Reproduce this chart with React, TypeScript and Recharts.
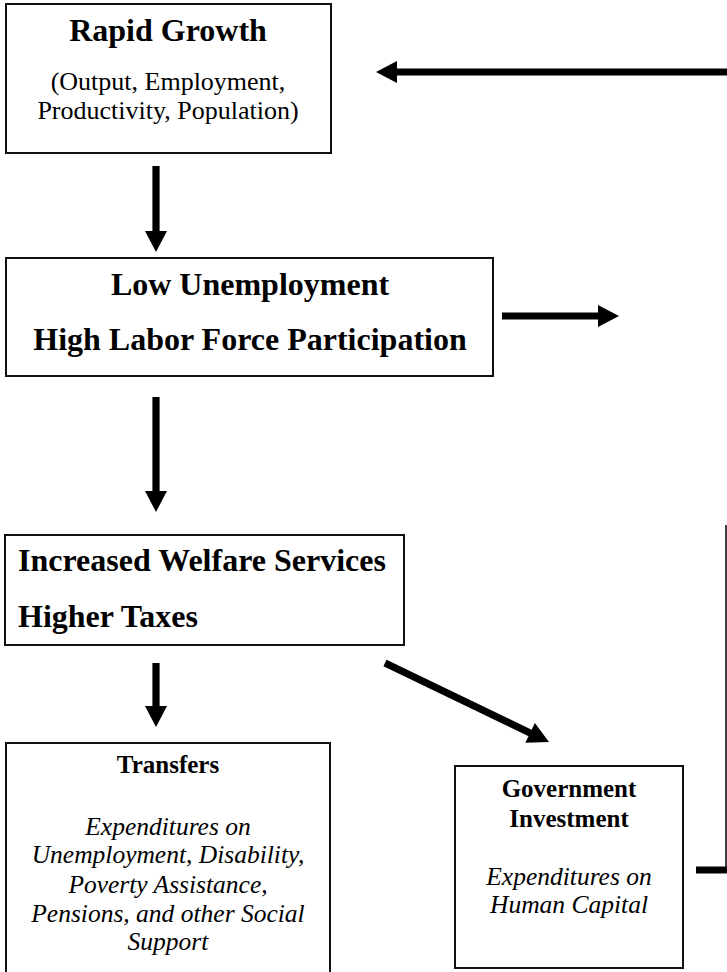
import React from "react";
import {
  ScatterChart,
  Scatter,
  XAxis,
  YAxis,
  ReferenceArea,
  ReferenceLine
} from "recharts";

// diagram units = page pixels of the 727x972 figure
const WIDTH = 727;
const HEIGHT = 972;

const boxes = [
  { id: "growth", x1: 6, x2: 331, y1: 4, y2: 153 },
  { id: "labor", x1: 6, x2: 493, y1: 258, y2: 376 },
  { id: "welfare", x1: 5, x2: 404, y1: 535, y2: 645 },
  { id: "transfers", x1: 6, x2: 330, y1: 743, y2: 990 },
  { id: "investment", x1: 455, x2: 683, y1: 766, y2: 968 }
];

const textLines = [
  { x: 168, y: 41, text: "Rapid Growth", role: "head" },
  { x: 168, y: 90, text: "(Output, Employment,", role: "sub" },
  { x: 168, y: 119, text: "Productivity, Population)", role: "sub" },
  { x: 250, y: 295, text: "Low Unemployment", role: "head" },
  { x: 250, y: 350, text: "High Labor Force Participation", role: "head" },
  { x: 18, y: 571, text: "Increased Welfare Services", role: "lead" },
  { x: 18, y: 627, text: "Higher Taxes", role: "lead" },
  { x: 168, y: 773, text: "Transfers", role: "title" },
  { x: 168, y: 835, text: "Expenditures on", role: "note" },
  { x: 168, y: 863, text: "Unemployment, Disability,", role: "note" },
  { x: 168, y: 893, text: "Poverty Assistance,", role: "note" },
  { x: 168, y: 922, text: "Pensions, and other Social", role: "note" },
  { x: 168, y: 950, text: "Support", role: "note" },
  { x: 569, y: 797, text: "Government", role: "title" },
  { x: 569, y: 827, text: "Investment", role: "title" },
  { x: 569, y: 885, text: "Expenditures on", role: "note" },
  { x: 569, y: 913, text: "Human Capital", role: "note" }
];

// from -> to (tip)
const arrows = [
  { id: "feedback", x1: 727, y1: 72, x2: 376, y2: 72 },
  { id: "growth-labor", x1: 156, y1: 166, x2: 156, y2: 252 },
  { id: "labor-out", x1: 502, y1: 316, x2: 619, y2: 316 },
  { id: "labor-welfare", x1: 156, y1: 397, x2: 156, y2: 512 },
  { id: "welfare-transfers", x1: 156, y1: 663, x2: 156, y2: 727 },
  { id: "welfare-investment", x1: 385, y1: 663, x2: 549, y2: 742 }
];

const connectors = [
  { id: "return-up", x1: 726, y1: 525, x2: 726, y2: 870, heavy: false },
  { id: "investment-out", x1: 696, y1: 870, x2: 727, y2: 870, heavy: true }
];

const FONT = '"Liberation Serif", "Times New Roman", serif';

const roleStyle: Record<string, any> = {
  head: { fontSize: 32, fontWeight: 700, anchor: "middle" },
  lead: { fontSize: 32, fontWeight: 700, anchor: "start" },
  sub: { fontSize: 26, fontWeight: 400, anchor: "middle" },
  title: { fontSize: 25, fontWeight: 700, anchor: "middle" },
  note: { fontSize: 25.5, fontWeight: 400, fontStyle: "italic", anchor: "middle" }
};

function TextShape(props: any) {
  const { cx, cy, payload } = props;
  const s = roleStyle[payload.role];
  return (
    <text
      x={cx}
      y={cy}
      textAnchor={s.anchor}
      fontFamily={FONT}
      fontSize={s.fontSize}
      fontWeight={s.fontWeight}
      fontStyle={s.fontStyle || "normal"}
      fill="#000"
    >
      {payload.text}
    </text>
  );
}

function ArrowShape(props: any) {
  const { x1, y1, x2, y2 } = props;
  const dx = x2 - x1;
  const dy = y2 - y1;
  const len = Math.sqrt(dx * dx + dy * dy) || 1;
  const ux = dx / len;
  const uy = dy / len;
  const nx = -uy;
  const ny = ux;
  const shaft = 3.6;
  const headLen = 21;
  const headHalf = 11;
  const bx = x2 - ux * headLen;
  const by = y2 - uy * headLen;
  const pts = [
    [x1 + nx * shaft, y1 + ny * shaft],
    [bx + nx * shaft, by + ny * shaft],
    [bx + nx * headHalf, by + ny * headHalf],
    [x2, y2],
    [bx - nx * headHalf, by - ny * headHalf],
    [bx - nx * shaft, by - ny * shaft],
    [x1 - nx * shaft, y1 - ny * shaft]
  ];
  return <polygon points={pts.map((p) => p.join(",")).join(" ")} fill="#000" />;
}

export default function App() {
  return (
    <div style={{ position: "absolute", left: 0, top: 0, width: WIDTH, height: HEIGHT, background: "#fff" }}>
      <ScatterChart width={WIDTH} height={HEIGHT} margin={{ top: 0, right: 0, bottom: 0, left: 0 }}>
        <XAxis type="number" dataKey="x" domain={[0, WIDTH]} hide allowDataOverflow />
        <YAxis type="number" dataKey="y" domain={[0, HEIGHT]} reversed hide allowDataOverflow />
        {boxes.map((b) => (
          <ReferenceArea
            key={b.id}
            x1={b.x1}
            x2={b.x2}
            y1={b.y1}
            y2={b.y2}
            fill="none"
            fillOpacity={0}
            stroke="#111"
            strokeWidth={2}
            ifOverflow="visible"
          />
        ))}
        {connectors.map((c) => (
          <ReferenceLine
            key={c.id}
            segment={[
              { x: c.x1, y: c.y1 },
              { x: c.x2, y: c.y2 }
            ]}
            stroke="#000"
            strokeWidth={c.heavy ? 7 : 1.5}
            ifOverflow="visible"
          />
        ))}
        {arrows.map((a) => (
          <ReferenceLine
            key={a.id}
            segment={[
              { x: a.x1, y: a.y1 },
              { x: a.x2, y: a.y2 }
            ]}
            ifOverflow="visible"
            shape={(p: any) => <ArrowShape {...p} />}
          />
        ))}
        <Scatter data={textLines} shape={(p: any) => <TextShape {...p} />} isAnimationActive={false} />
      </ScatterChart>
    </div>
  );
}
